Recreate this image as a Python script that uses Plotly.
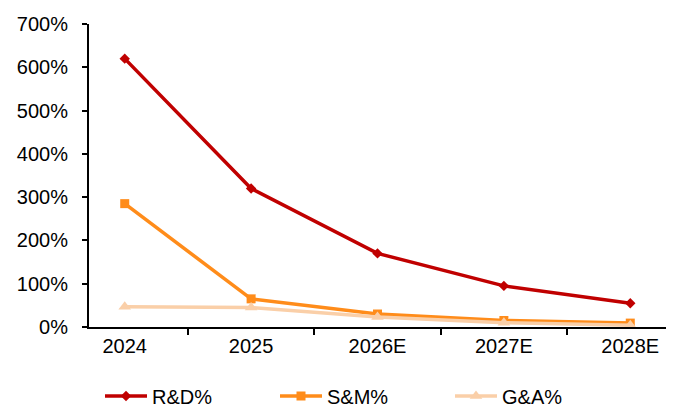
import plotly.graph_objects as go

years = ["2024", "2025", "2026E", "2027E", "2028E"]
rd_pct = [620, 320, 170, 95, 55]
sm_pct = [285, 65, 30, 15, 9]
ga_pct = [47, 45, 23, 10, 4]

series = [
    ("R&D%", rd_pct, "#C00000", "diamond", 8, "legend"),
    ("S&M%", sm_pct, "#FF8C1A", "square", 9, "legend2"),
    ("G&A%", ga_pct, "#FACFA8", "triangle-up", 11, "legend3"),
]

fig = go.Figure()
for name, vals, color, symbol, msize, leg in series:
    fig.add_trace(go.Scatter(
        x=years, y=vals, name=name, mode="lines+markers",
        line=dict(color=color, width=3.5),
        marker=dict(symbol=symbol, size=msize, color=color),
        legend=leg,
    ))

font = dict(family="Liberation Sans, Arial, sans-serif", size=20, color="#000000")


def legend_box(xpix):
    return dict(
        orientation="h",
        xref="container", yref="container",
        x=xpix / 674, y=(407 - 396) / 407, xanchor="left", yanchor="middle",
        font=font, itemwidth=42, bgcolor="rgba(0,0,0,0)",
    )


fig.update_layout(
    width=674, height=407,
    margin=dict(l=89, r=8, t=24, b=80, autoexpand=False),
    paper_bgcolor="white", plot_bgcolor="white",
    font=font,
    showlegend=True,
    legend=legend_box(100),
    legend2=legend_box(275),
    legend3=legend_box(450),
    xaxis=dict(
        type="category", showline=True, linecolor="black", linewidth=2,
        ticks="outside", tickson="boundaries", ticklen=6, tickcolor="black", tickwidth=2,
        showgrid=False, zeroline=False,
    ),
    yaxis=dict(
        range=[0, 700], dtick=100, ticksuffix="%",
        showline=True, linecolor="black", linewidth=2,
        ticks="outside", ticklen=5, tickcolor="black", tickwidth=2,
        ticklabelstandoff=10,
        showgrid=False, zeroline=False,
    ),
)

fig.write_html("out.html")
